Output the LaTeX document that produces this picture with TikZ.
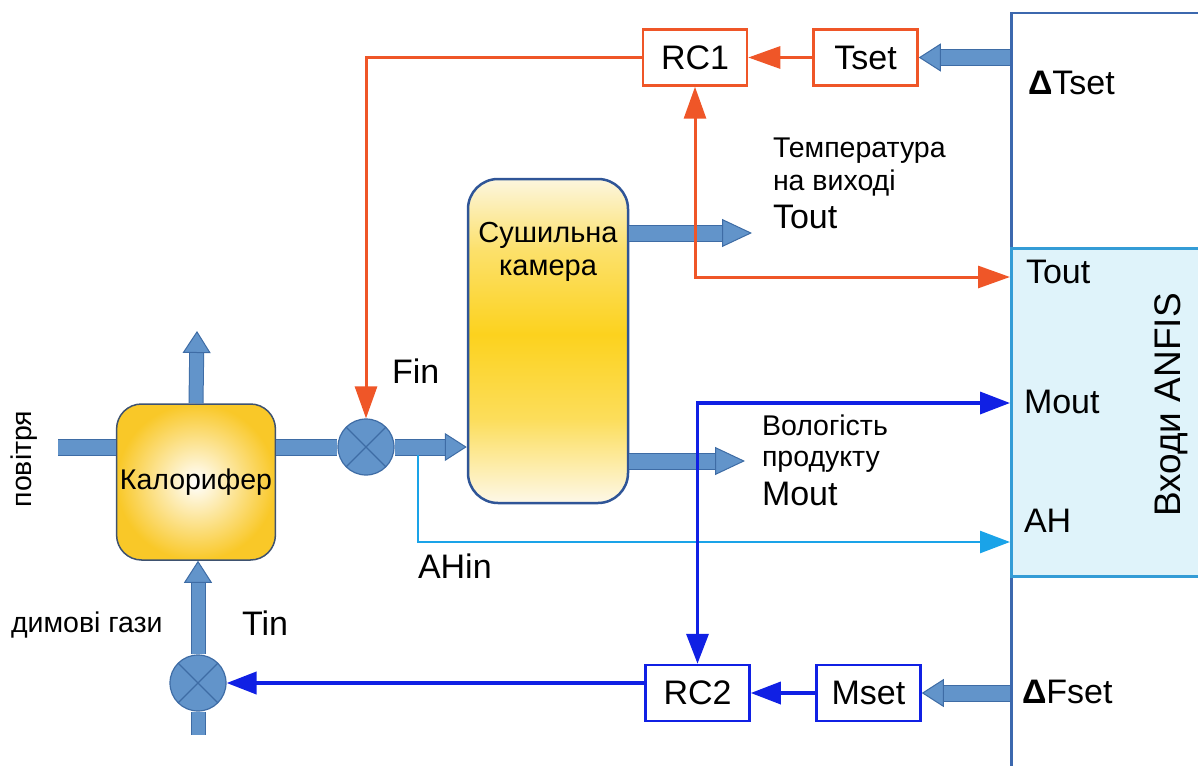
\documentclass[tikz,border=0pt]{standalone}
\usepackage{fontspec}
\setmainfont{Liberation Sans}
\usetikzlibrary{arrows.meta,calc}
\definecolor{pipefill}{RGB}{98,148,202}
\definecolor{pipeedge}{RGB}{62,108,165}
\definecolor{ctrlred}{RGB}{239,86,40}
\definecolor{ctrlblue}{RGB}{16,32,228}
\definecolor{ahblue}{RGB}{26,163,232}
\definecolor{panelblue}{RGB}{60,104,174}
\definecolor{panelcyan}{RGB}{223,243,250}
\definecolor{panelcyanedge}{RGB}{52,156,214}
\definecolor{kalyellow}{RGB}{249,200,40}
\definecolor{chamyellow}{RGB}{252,210,30}
\definecolor{chamcream}{RGB}{252,246,222}
\definecolor{chamcreamb}{RGB}{253,248,232}
\definecolor{boxedge}{RGB}{62,82,112}
\definecolor{chamedge}{RGB}{47,85,151}
\pgfdeclareverticalshading{chamshade}{100bp}{color(0bp)=(chamcreamb); color(25bp)=(chamcreamb); color(38bp)=(chamyellow!70!chamcreamb); color(51bp)=(chamyellow); color(64bp)=(chamyellow!60!chamcream); color(75bp)=(chamcream); color(100bp)=(chamcream)}
\begin{document}
\begin{tikzpicture}[x=1pt,y=-1pt,
  bigfont/.style={font=\fontsize{34}{40}\selectfont},
  smallfont/.style={font=\fontsize{28.5}{33}\selectfont},
  txt/.style={inner sep=0pt, outer sep=0pt},
  ctrlbox/.style={draw, line width=2.5pt, fill=white, minimum width=104pt, minimum height=56pt, inner sep=0pt, bigfont},
  redbox/.style={ctrlbox, draw=ctrlred},
  bluebox/.style={ctrlbox, draw=ctrlblue},
  valve/.style={circle, draw=pipeedge, fill=pipefill, line width=1.2pt, minimum size=56pt, inner sep=0pt,
    path picture={\draw[pipeedge, line width=1.2pt]
      (path picture bounding box.north west) -- (path picture bounding box.south east)
      (path picture bounding box.north east) -- (path picture bounding box.south west);}},
  pipeh/.style={line width=15pt, draw=pipefill, preaction={draw=pipeedge, line width=17pt, arrows=-, shorten >=#1}},
  pipeh/.default=0pt,
  pipev/.style={line width=13pt, draw=pipefill, preaction={draw=pipeedge, line width=15pt, arrows=-, shorten >=#1}},
  pipev/.default=0pt,
  ptip/.style={-{Triangle[width=28pt,length=22pt,fill=pipefill,color=pipeedge,line width=1pt]}},
  ptiplong/.style={-{Triangle[width=28pt,length=30pt,fill=pipefill,color=pipeedge,line width=1pt]}},
  redline/.style={draw=ctrlred, line width=3pt},
  blueline/.style={draw=ctrlblue, line width=3.5pt},
  ahline/.style={draw=ahblue, line width=2.5pt},
  rtip/.style={-{Triangle[width=22pt,length=32pt]}},
  rtips/.style={{Triangle[width=22pt,length=32pt]}-{Triangle[width=22pt,length=32pt]}},
  btip/.style={-{Triangle[width=22pt,length=30pt]}},
  btips/.style={{Triangle[width=22pt,length=30pt]}-{Triangle[width=22pt,length=30pt]}},
]
\useasboundingbox (0,0) rectangle (1198,765);

% ANFIS panel
\node[draw=panelblue, line width=2.5pt, minimum width=220pt, minimum height=235pt, anchor=north west, inner sep=0pt] (ptop) at (1010,12) {};
\node[draw=panelblue, line width=2.5pt, minimum width=220pt, minimum height=220pt, anchor=north west, inner sep=0pt] (pbot) at (1010,575) {};
\node[draw=panelcyanedge, fill=panelcyan, line width=3pt, minimum width=220pt, minimum height=328pt, anchor=north west, inner sep=0pt] (pmid) at (1010,247) {};

\node[txt, bigfont, anchor=base west] (lDT) at (1028,95) {\textbf{Δ}Tset};
\node[txt, bigfont, anchor=base west] (lTout) at (1026,283) {Tout};
\node[txt, bigfont, anchor=base west] (lMout) at (1024,413) {Mout};
\node[txt, bigfont, anchor=base west] (lAH) at (1024,532) {AH};
\node[txt, bigfont, anchor=base west] (lDF) at (1022,703) {\textbf{Δ}Fset};
\node[txt, font=\fontsize{37}{42}\selectfont, rotate=90, anchor=base] (lANFIS) at (1180,405) {Входи ANFIS};

\coordinate (inTout) at (1010,277);
\coordinate (inMout) at (1010,403);
\coordinate (inAH) at (1010,542);

% process units
\node[draw=boxedge, line width=1.5pt, rounded corners=25pt, minimum width=158pt, minimum height=156pt,
  inner color=white, outer color=kalyellow, font=\fontsize{28.5}{33}\selectfont] (kal) at (196,482) {Калорифер};
\node[draw=chamedge, line width=2.5pt, rounded corners=30pt, minimum width=160pt, minimum height=324pt,
  shading=chamshade] (cham) at (548,341) {};
\node[txt, font=\fontsize{29}{33}\selectfont, align=center, anchor=north] (chamTxt) at (548,222) {Сушильна\\камера};

\node[valve] (v1) at (366,447) {};
\node[valve] (v2) at (198,683) {};

% controllers
\node[redbox] (RC1) at (695,57.5) {RC1};
\node[redbox] (Tset) at (865.5,57.5) {Tset};
\node[bluebox] (RC2) at (697.5,693) {RC2};
\node[bluebox] (Mset) at (868.5,693) {Mset};

% free pipe ends
\coordinate (airIn) at (58,447);
\coordinate (kalOut) at (197,331);
\coordinate (gasIn) at (198,735);
\coordinate (toutEnd) at (752,233);
\coordinate (moutEnd) at (745,461);
\coordinate (ahTap) at (418,455);

% pipes
\draw[pipeh] (airIn) -- (kal.west |- airIn);
\draw[pipeh] (kal.east |- v1.west) -- (v1.west);
\draw[pipeh=18pt, ptip] (v1.east) -- (cham.west |- v1.east);
\draw[pipev=18pt, ptip] (kal.north) -- (kalOut);
\draw[pipev=18pt, ptip] (v2.north) -- (kal.south -| v2.north);
\draw[pipev] (v2.south) -- (gasIn);
\draw[pipeh=25pt, ptiplong] (cham.east |- toutEnd) -- (toutEnd);
\draw[pipeh=25pt, ptiplong] (cham.east |- moutEnd) -- (moutEnd);
\draw[pipeh=18pt, ptip] (ptop.west |- Tset.east) -- (Tset.east);
\draw[pipeh=18pt, ptip] (pbot.west |- Mset.east) -- (Mset.east);

% AH measurement
\draw[ahline, btip] (ahTap) |- (inAH);

% red loop
\draw[redline, rtip] (Tset.west) -- (RC1.east);
\draw[redline, rtip] (RC1.west) -| (v1.north);
\draw[redline, rtips] (RC1.south) |- (inTout);

% blue loop
\draw[blueline, btip] (Mset.west) -- (RC2.east);
\draw[blueline, line width=4pt, btip] (RC2.west |- v2.east) -- (v2.east);
\draw[blueline, btips] (RC2.north) |- (inMout);

% labels
\node[txt, smallfont, anchor=base west] (tTemp) at (773,157) {Температура};
\node[txt, smallfont, anchor=base west] (tNa) at (773,190) {на виході};
\node[txt, bigfont, anchor=base west] (tTout) at (773,228) {Tout};
\node[txt, smallfont, anchor=base west] (tVol) at (762,435) {Вологість};
\node[txt, smallfont, anchor=base west] (tProd) at (762,466) {продукту};
\node[txt, bigfont, anchor=base west] (tMout) at (762,505) {Mout};
\node[txt, bigfont, anchor=base west] (tFin) at (392,383) {Fin};
\node[txt, bigfont, anchor=base west] (tTin) at (242,635) {Tin};
\node[txt, bigfont, anchor=base west] (tAHin) at (418,578) {AHin};
\node[txt, smallfont, anchor=base west] (tGas) at (11,632) {димові гази};
\node[txt, smallfont, rotate=90, anchor=base] (tAir) at (31,459) {повітря};
\end{tikzpicture}
\end{document}
